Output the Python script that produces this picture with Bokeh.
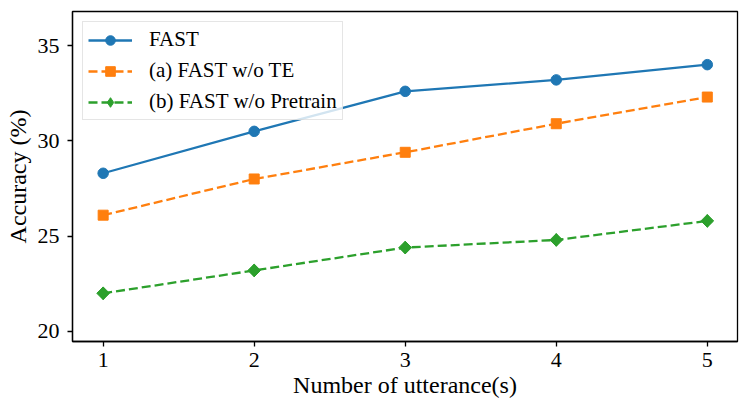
import math
from bokeh.plotting import figure
from bokeh.models import Range1d, FixedTicker, Legend, LegendItem
from bokeh.embed import file_html
from bokeh.resources import INLINE

x_vals = [1, 2, 3, 4, 5]
fast = [28.3, 30.5, 32.6, 33.2, 34.0]
fast_wo_te = [26.1, 28.0, 29.4, 30.9, 32.3]
fast_wo_pretrain = [22.0, 23.2, 24.4, 24.8, 25.8]
labels = ["FAST", "(a) FAST w/o TE", "(b) FAST w/o Pretrain"]
y_ticks = [20, 25, 30, 35]

FONT = "Liberation Serif"

p = figure(width=740, height=403, output_backend="svg", toolbar_location=None,
           x_range=Range1d(0.797, 5.2), y_range=Range1d(19.47, 36.79),
           min_border_left=72, min_border_right=3, min_border_top=11, min_border_bottom=62)

p.xgrid.visible = False
p.ygrid.visible = False
p.outline_line_color = "black"
p.outline_line_width = 1.3
p.background_fill_color = "white"
p.border_fill_color = "white"

for ax in (p.xaxis[0], p.yaxis[0]):
    ax.axis_line_color = "black"
    ax.axis_line_width = 1.3
    ax.major_tick_line_color = "black"
    ax.major_tick_line_width = 1.3
    ax.major_tick_out = 5
    ax.major_tick_in = 0
    ax.minor_tick_line_color = None
    ax.major_label_text_font = FONT
    ax.major_label_text_font_size = "22px"
    ax.major_label_text_color = "black"
    ax.axis_label_text_font = FONT
    ax.axis_label_text_font_size = "24px"
    ax.axis_label_text_font_style = "normal"
    ax.axis_label_text_color = "black"

p.xaxis.ticker = FixedTicker(ticks=x_vals)
p.yaxis.ticker = FixedTicker(ticks=y_ticks)
p.xaxis.axis_label = "Number of utterance(s)"
p.yaxis.axis_label = "Accuracy (%)"
p.xaxis.major_label_standoff = 6
p.yaxis.major_label_standoff = 8
p.xaxis.axis_label_standoff = 2
p.yaxis.axis_label_standoff = 4

blue = "#1f77b4"
orange = "#ff7f0e"
green = "#2ca02c"

l1 = p.line(x_vals, fast, line_color=blue, line_width=2.3)
m1 = p.scatter(x_vals, fast, marker="circle", size=10.5, fill_color=blue, line_color=blue)
l2 = p.line(x_vals, fast_wo_te, line_color=orange, line_width=2.3, line_dash="9 4")
m2 = p.scatter(x_vals, fast_wo_te, marker="square", size=10, fill_color=orange, line_color=orange)
l3 = p.line(x_vals, fast_wo_pretrain, line_color=green, line_width=2.3, line_dash="9 4")
# diamond drawn underneath the rotated squares; used for the legend glyph
m3_leg = p.scatter(x_vals, fast_wo_pretrain, marker="diamond", size=12.5,
                   fill_color=green, line_color=green)
m3 = p.scatter(x_vals, fast_wo_pretrain, marker="square", angle=math.pi / 4, size=9,
               fill_color=green, line_color=green)

legend = Legend(items=[
    LegendItem(label=labels[0], renderers=[l1, m1]),
    LegendItem(label=labels[1], renderers=[l2, m2]),
    LegendItem(label=labels[2], renderers=[l3, m3_leg]),
], location="top_left")
legend.margin = 10
legend.padding = 5
legend.spacing = 6
legend.glyph_width = 44
legend.glyph_height = 24
legend.label_height = 24
legend.label_standoff = 17
legend.label_text_font = FONT
legend.label_text_font_size = "21px"
legend.label_text_color = "black"
legend.border_line_color = "#cccccc"
legend.border_line_width = 1
legend.background_fill_alpha = 0.8
p.add_layout(legend)

open("out.html", "w").write(file_html(p, INLINE))
